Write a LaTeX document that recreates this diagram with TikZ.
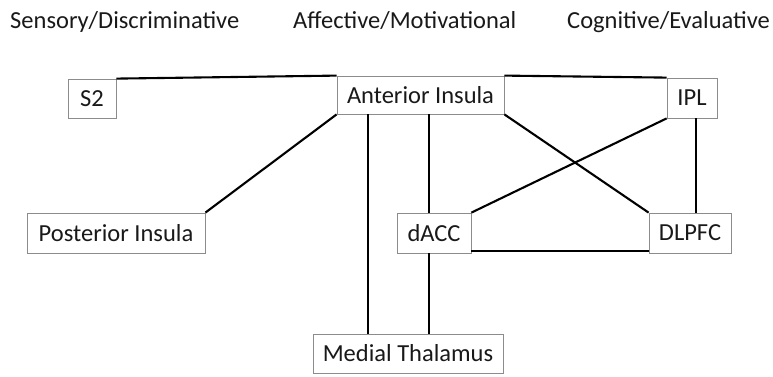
\documentclass[tikz,border=0pt]{standalone}
\usepackage{fontspec}
\setmainfont{Carlito}
\begin{document}
\begin{tikzpicture}[x=1pt,y=-1pt,
  box/.style={draw=black!45,line width=0.8pt,fill=white,inner sep=0pt,
    font=\fontsize{24.5}{28}\selectfont,text=black!90},
  head/.style={anchor=base west,inner sep=0pt,font=\fontsize{24.5}{28}\selectfont,text=black!90},
  link/.style={line width=2.1pt,black}]
\useasboundingbox (0,0) rectangle (773,376);
\node[head] (h1) at (10,28) {Sensory/Discriminative};
\node[head] (h2) at (293,28) {Affective/Motivational};
\node[head] (h3) at (567,28) {Cognitive/Evaluative};

\node[box,minimum width=48pt,minimum height=39pt] (s2) at (92,98.5) {S2};
\node[box,minimum width=167pt,minimum height=38pt] (ai) at (420.5,95) {Anterior Insula};
\node[box,minimum width=50pt,minimum height=40pt] (ipl) at (692,98) {IPL};
\node[box,minimum width=178pt,minimum height=40pt] (pi) at (116,233) {Posterior Insula};
\node[box,minimum width=74pt,minimum height=40pt] (dacc) at (434,233) {dACC};
\node[box,minimum width=82pt,minimum height=40pt] (dlpfc) at (690,233) {DLPFC};
\node[box,minimum width=190pt,minimum height=39pt] (mt) at (408,353.5) {Medial Thalamus};

\coordinate (c1) at ([xshift=31pt]ai.south west);
\coordinate (c2) at ([xshift=-5pt]dacc.north);
\coordinate (c3) at ([xshift=4pt]ipl.south);

\draw[link] (s2.north east) -- (ai.north west);
\draw[link] (ai.north east) -- (ipl.north west);
\draw[link] (ai.south west) -- (pi.north east);
\draw[link] (c1) -- (c1 |- mt.north);
\draw[link] (c2 |- ai.south) -- (c2);
\draw[link] (c2 |- dacc.south) -- (c2 |- mt.north);
\draw[link] (dacc.north east) -- (ipl.south west);
\draw[link] (ai.south east) -- (dlpfc.north west);
\draw[link] (c3) -- (c3 |- dlpfc.north);
\draw[link] ([yshift=2pt]dacc.south east) -- ([yshift=2pt]dlpfc.south west);
\end{tikzpicture}
\end{document}
